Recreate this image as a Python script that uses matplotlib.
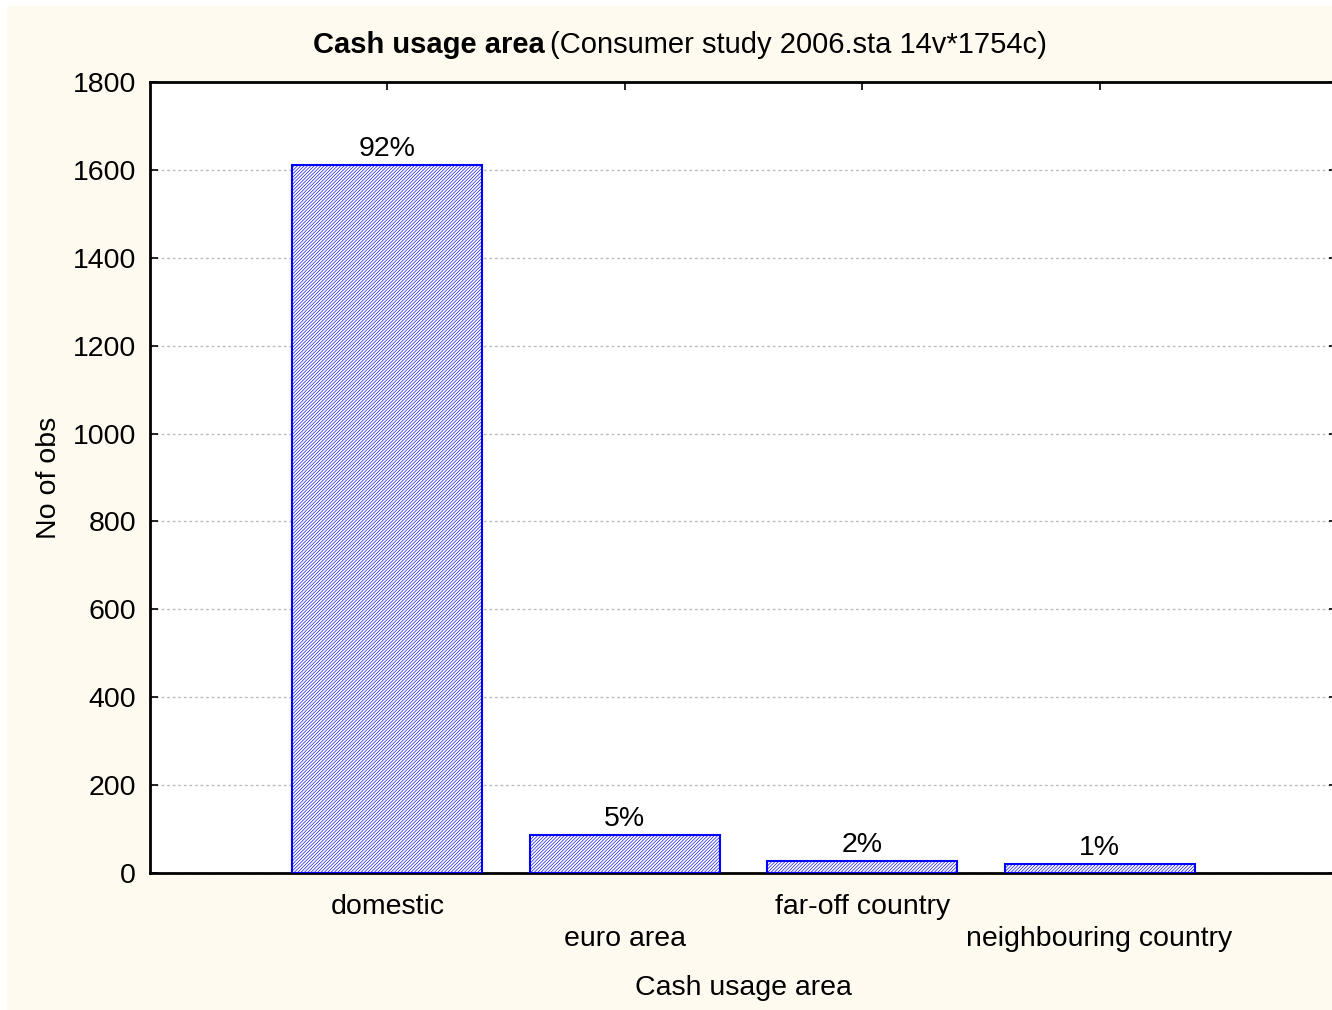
import matplotlib
matplotlib.use('Agg')
import matplotlib.pyplot as plt
from matplotlib.patches import Rectangle

plt.rcParams['font.family'] = ['Liberation Sans', 'DejaVu Sans']
plt.rcParams['hatch.color'] = '#0000FF'
plt.rcParams['hatch.linewidth'] = 0.45

categories = ['domestic', 'euro area', 'far-off country', 'neighbouring country']
counts = [1611, 87, 27, 21]
n_total = 1754
y_ticks = [0, 200, 400, 600, 800, 1000, 1200, 1400, 1600, 1800]

FS = 20.5
W, H = 1332, 1010
fig = plt.figure(figsize=(W / 100, H / 100), dpi=100, facecolor='white')
# cream background, small white strip at left and top
fig.patches.append(Rectangle((7 / W, 0), 1, 1 - 6 / H, transform=fig.transFigure,
                             facecolor='#FFFAF0', edgecolor='none', zorder=-10))

ax = fig.add_axes([150 / W, 137 / H, 1187 / W, 791 / H])
ax.set_facecolor('white')

x = list(range(len(categories)))
bars = ax.bar(x, counts, width=0.8, facecolor='white', edgecolor='#0000FF',
              linewidth=1.5, hatch='//////////', zorder=3)

pct = [f"{round(100 * c / n_total)}%" for c in counts]
ax.bar_label(bars, labels=pct, padding=2, fontsize=FS)

ax.set_xlim(-1, 4)
ax.set_ylim(0, 1800)
ax.set_yticks(y_ticks)
ax.set_xticks(x)
ax.set_xticklabels([('' if i % 2 == 0 else '\n') + c for i, c in enumerate(categories)],
                   linespacing=1.3)

ax.grid(True, axis='y', color='#bdbdbd', linestyle=(0, (2, 2)), linewidth=1, zorder=0)
ax.tick_params(axis='both', direction='in', length=6, width=1.2, labelsize=FS,
               top=True, right=True, colors='black')
ax.tick_params(axis='x', pad=15)
ax.tick_params(axis='y', pad=10)

for side in ['left', 'bottom', 'top']:
    ax.spines[side].set_linewidth(2)
ax.spines['right'].set_visible(False)

ax.set_xlabel('Cash usage area', fontsize=FS, labelpad=17)
ax.set_ylabel('No of obs', fontsize=FS, labelpad=8)

fig.text(545 / W, 1 - 45 / H, 'Cash usage area', fontsize=21, weight='bold',
         ha='right', va='center')
fig.text(550 / W, 1 - 45 / H, '(Consumer study 2006.sta 14v*1754c)', fontsize=21,
         ha='left', va='center')

fig.savefig('out.png', dpi=100, facecolor=fig.get_facecolor())
